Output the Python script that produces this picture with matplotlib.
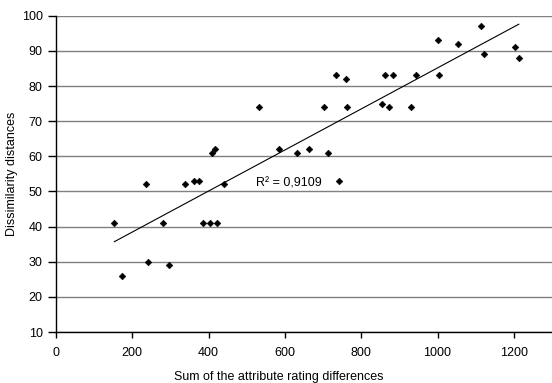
import matplotlib.pyplot as plt
import numpy as np

plt.rcParams['font.family'] = ['Liberation Sans', 'DejaVu Sans']

# Data
attr_diff = [153, 172, 237, 240, 280, 295, 339, 363, 375, 385, 403, 423, 441,
             408, 418, 531, 584, 633,
             662, 703, 712, 734, 743, 760, 764, 854, 863, 874, 884, 931, 943,
             1000, 1004, 1053, 1113, 1122, 1202, 1213]
dissim = [41, 26, 52, 30, 41, 29, 52, 53, 53, 41, 41, 41, 52,
          61, 62, 74, 62, 61,
          62, 74, 61, 83, 53, 82, 74, 75, 83, 74, 83, 74, 83,
          93, 83, 92, 97, 89, 91, 88]
x_ticks = [0, 200, 400, 600, 800, 1000, 1200]
y_ticks = [10, 20, 30, 40, 50, 60, 70, 80, 90, 100]

x = np.array(attr_diff, dtype=float)
y = np.array(dissim, dtype=float)

# Linear trendline and R^2
slope, intercept = np.polyfit(x, y, 1)
fit = slope * x + intercept
r2 = 1 - np.sum((y - fit) ** 2) / np.sum((y - y.mean()) ** 2)

fig = plt.figure(figsize=(5.52, 3.83), dpi=100)
ax = fig.add_axes([0.1014, 0.133, 0.8986, 0.826])

ax.set_axisbelow(True)
ax.yaxis.grid(True, color='#808080', linewidth=1.0)

ax.plot(x, y, linestyle='none', marker='D', markersize=3.4,
        markeredgewidth=0.4, color='black', zorder=3)

xs = np.array([x.min(), x.max()])
ax.plot(xs, slope * xs + intercept, color='black', linewidth=0.8, zorder=2)
ax.text(525, 52.4, 'R² = 0,9109', fontsize=9, ha='left', va='center')

ax.set_xlim(0, 1300)
ax.set_ylim(10, 100)
ax.set_xticks(x_ticks)
ax.set_yticks(y_ticks)
ax.tick_params(labelsize=9, width=1, direction='out')
ax.tick_params(axis='x', length=4, pad=7)
ax.tick_params(axis='y', length=6, pad=3.5)

for side in ['top', 'right']:
    ax.spines[side].set_visible(False)
for side in ['left', 'bottom']:
    ax.spines[side].set_linewidth(1.0)

ax.set_xlabel('Sum of the attribute rating differences', fontsize=9, va='center')
ax.xaxis.set_label_coords(0.45, -0.142)
ax.set_ylabel('Dissimilarity distances', fontsize=9, va='center')
ax.yaxis.set_label_coords(-0.0887, 0.5)

fig.savefig('out.png', dpi=100)
